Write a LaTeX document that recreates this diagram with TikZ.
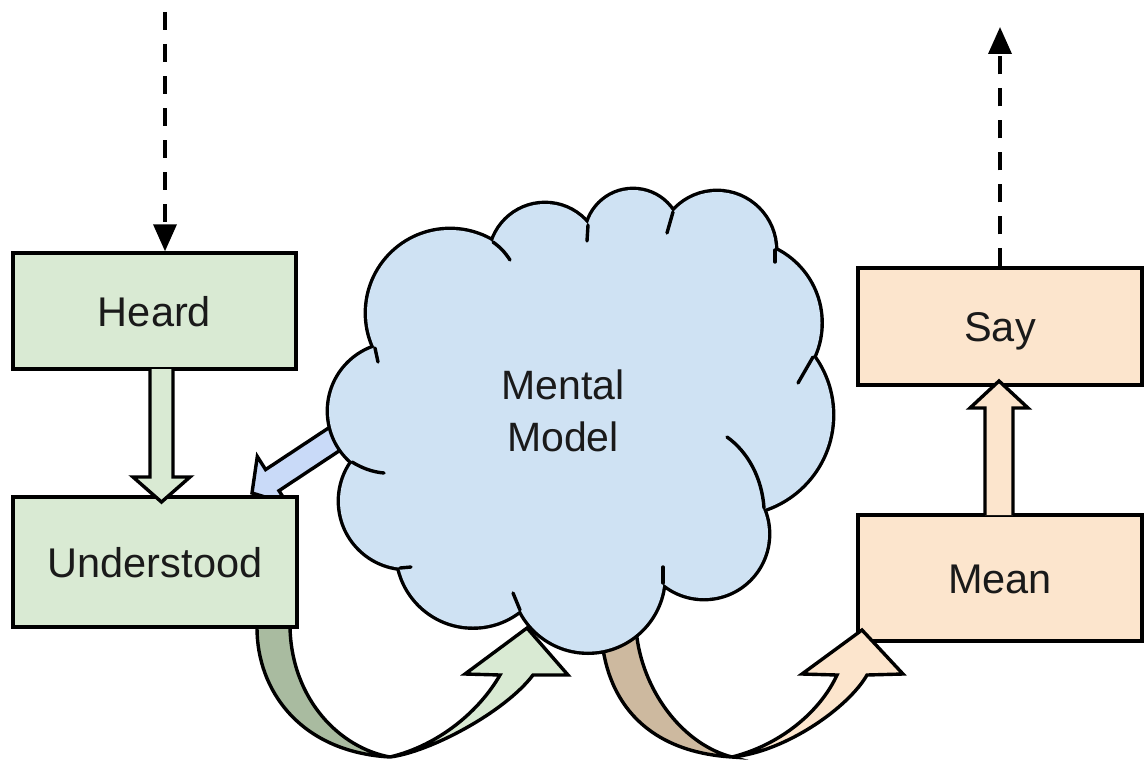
\documentclass[tikz,border=0pt]{standalone}
\usepackage{fontspec}
\setmainfont{Liberation Sans}
\usetikzlibrary{arrows.meta}
\definecolor{greenfill}{HTML}{D9EAD3}
\definecolor{greenshade}{HTML}{A9BBA0}
\definecolor{orangefill}{HTML}{FCE5CD}
\definecolor{orangeshade}{HTML}{CDB99F}
\definecolor{cloudfill}{HTML}{CFE2F3}
\definecolor{bluearrow}{HTML}{C9DAF8}
\definecolor{ink}{HTML}{1A1A1A}

\begin{document}
\begin{tikzpicture}[x=1pt,y=-1pt,
  box/.style={draw=black, line width=3.4pt, inner sep=0pt, text height=30pt,
    text depth=0pt, font=\fontsize{41.5}{50}\selectfont, text=ink},
  outline/.style={draw=black, line width=3.4pt},
  flow/.style={line width=3.6pt, dash pattern=on 18pt off 14pt,
    -{Triangle[length=27pt,width=23pt]}},
  hook/.style={line width=3.4pt, line cap=round},
]
\useasboundingbox (0,0) rectangle (1145,760);

% right-hand boxes
\node[box, fill=orangefill, minimum width=284pt, minimum height=117pt] (say) at (1000,326.5) {Say};
\node[box, fill=orangefill, minimum width=284pt, minimum height=126pt] (mean) at (1000,578) {Mean};

% curved arrow: mental model -> mean (tail tucked under the cloud)
\draw[outline, fill=orangeshade] (636,615) -- (601,625) -- (601,630)
  .. controls (605,705) and (650,752) .. (732,757)
  .. controls (685,745) and (645,695) .. (637,638) -- cycle;
\draw[outline, fill=orangefill] (732,757)
  .. controls (785,752) and (848,708) .. (867,675)
  -- (903,674) -- (862,630) -- (802,674) -- (837,675)
  .. controls (820,712) and (780,745) .. (732,757) -- cycle;

% block arrow: mental model -> understood
\draw[outline, fill=bluearrow] (351.7,442.6) -- (279,490.7) -- (287.3,503.7)
  -- (252,493) -- (257.3,456.5) -- (265.6,469.6) -- (338.3,421.5) -- cycle;

% curved arrow: understood -> mental model
\draw[outline, fill=greenshade] (257,612) -- (257,628)
  .. controls (257,690) and (300,752) .. (390,757)
  .. controls (340,748) and (292,700) .. (290,628) -- (290,612) -- cycle;
\draw[outline, fill=greenfill] (390,757)
  .. controls (430,752) and (505,712) .. (533,675)
  -- (568,675) -- (527,628) -- (465,674) -- (500,675)
  .. controls (480,710) and (440,745) .. (390,757) -- cycle;

% cloud: union of puffs, outline first, then fill over the inner half
\def\puffs{396/411/67, 450/313/83, 545/259/55, 633/237/47, 717/250/58,
  739/323/81.5, 733/415/99, 704/534/64, 588/576/75.6, 473/551/75.5, 407/501/67}
\foreach \cx/\cy/\r in \puffs
  \draw[line width=6.8pt] (\cx,\cy) circle[radius=\r pt];
\fill[cloudfill] (396,411) -- (450,313) -- (545,259) -- (633,237) -- (717,250)
  -- (739,323) -- (733,415) -- (704,534) -- (588,576) -- (473,551) -- (407,501) -- cycle;
\foreach \cx/\cy/\r in \puffs
  \fill[cloudfill] (\cx,\cy) circle[radius=\r pt];
% inner creases of the cloud
\draw[hook] (375,348) -- (378,362);
\draw[hook] (493,242) to[bend left=10] (510,260);
\draw[hook] (588,225) -- (587,241);
\draw[hook] (673,212) -- (667,233);
\draw[hook] (775,250) -- (775,262);
\draw[hook] (813,357) -- (798,383);
\draw[hook] (727,437) .. controls (748,452) and (762,478) .. (764,508);
\draw[hook] (663,567) -- (663,583);
\draw[hook] (513,593) -- (520,610);
\draw[hook] (400,568) -- (411,567);
\draw[hook] (352,462) .. controls (362,468) and (372,472) .. (384,473);

\node[font=\fontsize{41}{52}\selectfont, text=ink, align=center, inner sep=0pt]
  (model) at (563,411) {Mental\\Model};

% left-hand boxes
\node[box, fill=greenfill, minimum width=283pt, minimum height=116pt] (heard) at (154.5,311) {Heard};
\node[box, fill=greenfill, minimum width=284pt, minimum height=130pt] (understood) at (155,562) {Understood};

% straight block arrows
\draw[outline, fill=greenfill] (150,369) -- (150,477) -- (133,477) -- (161.5,502)
  -- (190,477) -- (173,477) -- (173,369);
\draw[outline, fill=orangefill] (985,515) -- (985,408) -- (970,408) -- (999,381)
  -- (1028,408) -- (1013,408) -- (1013,515);

% dashed input and output
\coordinate (src) at (165,12);
\coordinate (sink) at (1000,27);
\draw[flow] (src) -- (src |- heard.north);
\draw[flow] (sink |- say.north) -- (sink);
\end{tikzpicture}
\end{document}
